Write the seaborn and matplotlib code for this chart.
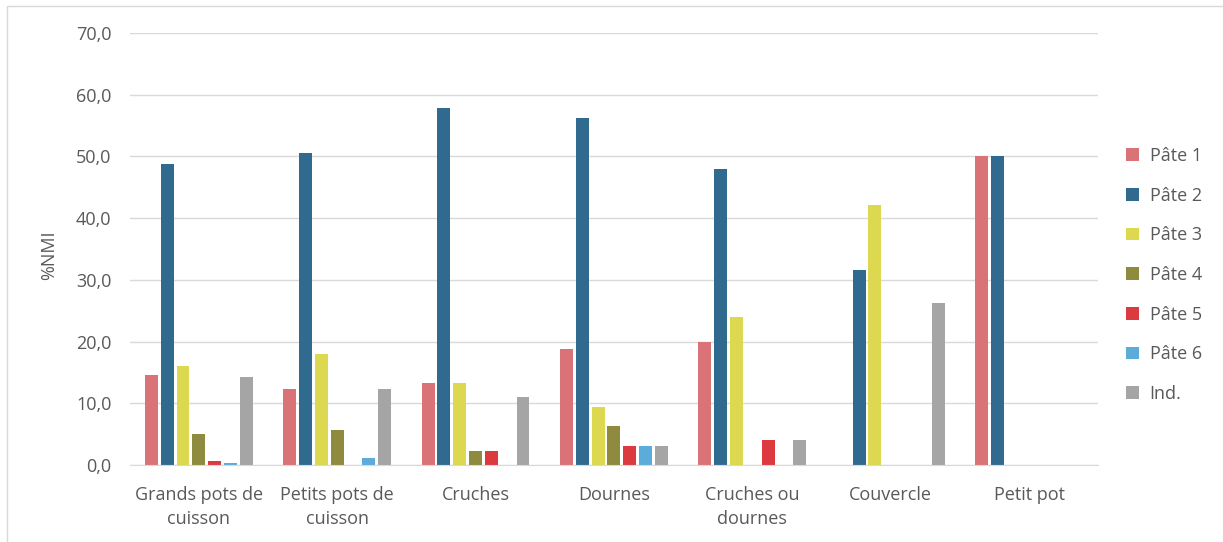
import pandas as pd
import matplotlib.pyplot as plt
import seaborn as sns
from matplotlib.patches import Rectangle

categories = ['Grands pots de\ncuisson', 'Petits pots de\ncuisson', 'Cruches', 'Dournes',
              'Cruches ou\ndournes', 'Couvercle', 'Petit pot']
series = ['Pâte 1', 'Pâte 2', 'Pâte 3', 'Pâte 4', 'Pâte 5', 'Pâte 6', 'Ind.']

pate1 = [14.6, 12.4, 13.3, 18.75, 20.0, 0.0, 50.0]
pate2 = [48.8, 50.6, 57.8, 56.25, 48.0, 31.6, 50.0]
pate3 = [16.1, 18.0, 13.3, 9.4, 24.0, 42.1, 0.0]
pate4 = [5.0, 5.6, 2.2, 6.25, 0.0, 0.0, 0.0]
pate5 = [0.6, 0.0, 2.2, 3.1, 4.0, 0.0, 0.0]
pate6 = [0.3, 1.1, 0.0, 3.1, 0.0, 0.0, 0.0]
ind = [14.3, 12.4, 11.1, 3.1, 4.0, 26.3, 0.0]

colors = ['#DA7378', '#316A8F', '#DCD84F', '#8E8A3E', '#DC3A3F', '#5CACD9', '#A5A5A5']

values = [pate1, pate2, pate3, pate4, pate5, pate6, ind]
rows = []
for s, vals in zip(series, values):
    for c, v in zip(categories, vals):
        rows.append([c, s, v])
df = pd.DataFrame(rows, columns=['categorie', 'pate', 'nmi'])

sns.set_style('white')
plt.rcParams['font.family'] = ['Open Sans', 'DejaVu Sans']

fig = plt.figure(figsize=(12.23, 5.42), dpi=100)
ax = fig.add_axes([0.106, 0.142, 0.792, 0.797])

sns.barplot(data=df, x='categorie', y='nmi', hue='pate', palette=colors,
            order=categories, hue_order=series, gap=0.18, width=0.8, saturation=1,
            edgecolor='none', ax=ax, legend=True)

grey = '#595959'
ax.set_ylim(0, 70)
ax.set_yticks(range(0, 71, 10))
ax.set_yticklabels([f'{v},0' for v in range(0, 71, 10)], color=grey, fontsize=13)
ax.set_xticks(range(len(categories)))
ax.set_xticklabels(categories, color=grey, fontsize=13, linespacing=1.45)
ax.set_xlim(-0.5, len(categories) - 0.5)
ax.yaxis.grid(True, color='#D9D9D9', linewidth=1)
ax.set_axisbelow(True)
for side in ['top', 'right', 'left']:
    ax.spines[side].set_visible(False)
ax.spines['bottom'].set_color('#D9D9D9')
ax.tick_params(axis='y', length=0, pad=13)
ax.tick_params(axis='x', length=0, pad=15)
ax.set_xlabel('')
ax.set_ylabel('%NMI', color=grey, fontsize=13)
ax.yaxis.set_label_coords(-0.074, 0.486)

leg = ax.legend(loc='center left', bbox_to_anchor=(1.012, 0.44), frameon=False,
                fontsize=13, labelspacing=1.2, handlelength=0.7, handleheight=0.7,
                handletextpad=0.6)
for t in leg.get_texts():
    t.set_color(grey)

fig.patches.append(Rectangle((0.006, -0.01), 1.0, 0.999, transform=fig.transFigure,
                             fill=False, edgecolor='#D9D9D9', linewidth=1))

plt.savefig('out.png', dpi=100)
plt.close()
